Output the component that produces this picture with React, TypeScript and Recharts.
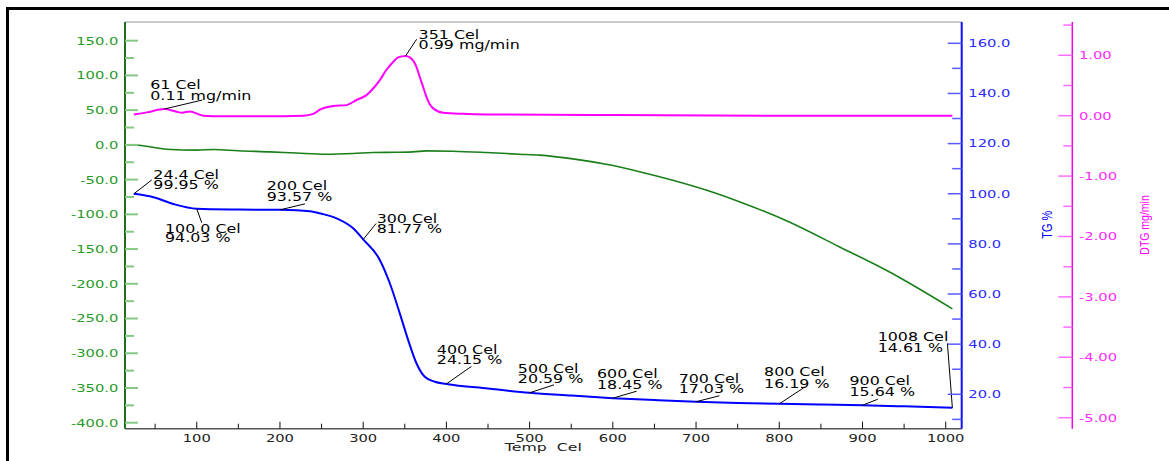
import React from "react";
import {
  ComposedChart,
  Line,
  XAxis,
  YAxis,
  ReferenceDot,
  ReferenceLine,
} from "recharts";

// TG curve, % (blue, right axis)
const tgTemps = [
  24.4, 48, 72, 100, 150, 200, 236, 250, 268, 288, 300, 320, 332, 344, 354,
  364, 374, 386, 400, 450, 500, 550, 600, 650, 700, 750, 800, 850, 900, 950,
  1008,
];
const tgValues = [
  99.95, 98.6, 95.9, 94.03, 93.7, 93.57, 93.0, 92.0, 90.2, 86.2, 81.77, 73.6,
  64.3, 52.3, 41.7, 32.4, 27.0, 25.0, 24.15, 22.3, 20.59, 19.5, 18.45, 17.7,
  17.03, 16.55, 16.19, 15.9, 15.64, 15.2, 14.61,
];

// DTA curve (green, left axis)
const dtaTemps = [
  16, 30, 64, 100, 120, 150, 188, 220, 256, 288, 312, 340, 360, 376, 408, 448,
  488, 512, 552, 592, 632, 672, 712, 752, 812, 872, 932, 1008,
];
const dtaValues = [
  0, -0.5, -6.2, -7.6, -6.6, -8.5, -10.1, -11.8, -13.4, -12.4, -11, -10.6,
  -10.1, -8.6, -9.1, -11, -13.4, -14.8, -20.2, -28, -38.6, -50.9, -65,
  -81.8, -111, -146.6, -182.6, -236,
];

// DTG curve, mg/min (magenta, far right axis)
const dtgTemps = [
  24.4, 40, 61, 76, 82, 92, 97, 108, 130, 180, 228, 240, 248, 264, 280, 292,
  304, 312, 320, 328, 336, 342, 351, 356, 364, 368, 372, 376, 380, 386, 396,
  420, 450, 600, 800, 1008,
];
const dtgValues = [
  0.02, 0.055, 0.11, 0.065, 0.05, 0.07, 0.05, 0.0, -0.01, -0.01, 0.0, 0.03,
  0.1, 0.16, 0.175, 0.26, 0.34, 0.45, 0.59, 0.76, 0.89, 0.965, 0.99, 0.965,
  0.81, 0.64, 0.48, 0.31, 0.19, 0.1, 0.05, 0.03, 0.02, 0.01, 0.0, 0.0,
];

// axis ticks
const xTicks = [
  50, 100, 150, 200, 250, 300, 350, 400, 450, 500, 550, 600, 650, 700, 750,
  800, 850, 900, 950, 1000,
];
const dtaTicks = [
  -400, -375, -350, -325, -300, -275, -250, -225, -200, -175, -150, -125, -100,
  -75, -50, -25, 0, 25, 50, 75, 100, 125, 150,
];
const tgTicks = [
  10, 20, 30, 40, 50, 60, 70, 80, 90, 100, 110, 120, 130, 140, 150, 160,
];
const dtgTicks = [
  -5, -4.5, -4, -3.5, -3, -2.5, -2, -1.5, -1, -0.5, 0, 0.5, 1, 1.5,
];

// peak / step annotations
const noteTemps = [61, 351, 24.4, 100, 200, 300, 400, 500, 600, 700, 800, 900, 1008];
const noteValues = [
  0.11, 0.99, 99.95, 94.03, 93.57, 81.77, 24.15, 20.59, 18.45, 17.03, 16.19,
  15.64, 14.61,
];
const TG = "a_tg";
const DTG = "b_dtg";
const noteAxes = [DTG, DTG, TG, TG, TG, TG, TG, TG, TG, TG, TG, TG, TG];
const noteTempText = [
  "61", "351", "24.4", "100.0", "200", "300", "400", "500", "600", "700",
  "800", "900", "1008",
];
const noteValueText = [
  "0.11 mg/min", "0.99 mg/min", "99.95 %", "94.03 %", "93.57 %", "81.77 %",
  "24.15 %", "20.59 %", "18.45 %", "17.03 %", "16.19 %", "15.64 %", "14.61 %",
];

// where each label sits relative to its point (px)
const noteLayout = [
  { tx: -14, b1: -19.7, b2: -8.7, lx: 38, ly: -9 },
  { tx: 13, b1: -16.6, b2: -6.6, lx: 11, ly: -16.6 },
  { tx: 19.5, b1: -15, b2: -5, lx: 18, ly: -14 },
  { tx: -31.7, b1: 24.3, b2: 33.6, lx: 5, ly: 14 },
  { tx: -13.2, b1: -20, b2: -9.2, lx: 25, ly: -6 },
  { tx: 13.5, b1: -16, b2: -6, lx: 13, ly: -16 },
  { tx: -9.6, b1: -30, b2: -20, lx: 25, ly: -17.5 },
  { tx: -11.8, b1: -20, b2: -9.5, lx: 24.4, ly: -8 },
  { tx: -15.8, b1: -20, b2: -9.5, lx: 23.8, ly: -7 },
  { tx: -17.4, b1: -19, b2: -8.3, lx: 23.3, ly: -6 },
  { tx: -15.2, b1: -27.5, b2: -16, lx: 24.4, ly: -16 },
  { tx: -13, b1: -20, b2: -9.3, lx: 15.3, ly: -6 },
  { tx: -74.7, b1: -67, b2: -55.5, lx: -5, ly: -64.5 },
];

const FONT = "'DejaVu Sans', Verdana, sans-serif";
const NARROW = "'Liberation Sans', Arial, sans-serif";

const GREEN = "#1a7f1a";
const BLUE = "#0000ff";
const MAGENTA = "#ff00ff";

const toPoints = (ts: number[], vs: number[]) => ts.map((t, i) => ({ t, v: vs[i] }));
const tgData = toPoints(tgTemps, tgValues);
const dtaData = toPoints(dtaTemps, dtaValues);
const dtgData = toPoints(dtgTemps, dtgValues);

const SText = ({ x, y, sx, anchor = "start", fill = "#000", size, family = FONT, rotate, children }: any) => (
  <text
    transform={`translate(${x},${y}) scale(${sx},1)${rotate ? ` rotate(${rotate})` : ""}`}
    textAnchor={anchor}
    fill={fill}
    fontSize={size}
    fontFamily={family}
    style={{ whiteSpace: "pre" }}
  >
    {children}
  </text>
);

const DtaTick = ({ x, y, payload }: any) => {
  const major = payload.value % 50 === 0;
  return (
    <g>
      <line x1={x} x2={x + (major ? 13 : 9)} y1={y} y2={y} stroke="#86c986" strokeWidth={2} />
      {major && (
        <SText x={x - 6.7} y={y + 3.9} sx={1.4} anchor="end" fill="#2a9a2a" size={10.5}>
          {payload.value.toFixed(1)}
        </SText>
      )}
    </g>
  );
};

const TgTick = ({ x, y, payload }: any) => {
  const major = payload.value % 20 === 0;
  return (
    <g>
      <line x1={x - (major ? 14 : 9.5)} x2={x} y1={y} y2={y} stroke="#5a5aff" strokeWidth={1.5} />
      {major && (
        <SText x={x + 6.6} y={y + 3.9} sx={1.4} fill="#2b2bff" size={10.5}>
          {payload.value.toFixed(1)}
        </SText>
      )}
    </g>
  );
};

const DtgTick = ({ x, y, payload }: any) => {
  const major = Number.isInteger(payload.value);
  return (
    <g>
      <line x1={x - (major ? 14 : 9)} x2={x} y1={y} y2={y} stroke="#ff6cff" strokeWidth={1.5} />
      {major && (
        <SText x={x + 6.7} y={y + 3.9} sx={1.4} fill="#ff2bff" size={10.5}>
          {payload.value.toFixed(2)}
        </SText>
      )}
    </g>
  );
};

const TempTick = ({ x, y, payload }: any) => {
  const major = payload.value % 100 === 0;
  return (
    <g>
      <line x1={x} x2={x} y1={y} y2={y - (major ? 7 : 5)} stroke="#111" strokeWidth={1} />
      {major && (
        <SText x={x} y={y + 13.6} sx={1.4} anchor="middle" fill="#222" size={10.5}>
          {String(payload.value)}
        </SText>
      )}
    </g>
  );
};

const noteShape = (i: number) => (p: any) => {
  const { cx, cy } = p;
  const l = noteLayout[i];
  return (
    <g>
      <line x1={cx} y1={cy} x2={cx + l.lx} y2={cy + l.ly} stroke="#000" strokeWidth={1} />
      <SText x={cx + l.tx} y={cy + l.b1} sx={1.27} size={12.5}>
        {`${noteTempText[i]} Cel`}
      </SText>
      <SText x={cx + l.tx} y={cy + l.b2} sx={1.27} size={12.5}>
        {noteValueText[i]}
      </SText>
    </g>
  );
};

export default function App() {
  return (
    <div style={{ position: "absolute", left: 0, top: 0, width: 1169, height: 461, background: "#fff" }}>
      <div
        style={{
          position: "absolute",
          left: 6,
          top: 7,
          width: 1169,
          height: 461,
          borderTop: "3px solid #000",
          borderLeft: "3px solid #000",
        }}
      />
      <div style={{ position: "absolute", left: 0, top: 0 }}>
        <ComposedChart width={1169} height={461} margin={{ top: 22, right: 0, bottom: 0, left: 0 }}>
          <XAxis
            dataKey="t"
            type="number"
            domain={[13.8, 1019.2]}
            allowDataOverflow
            ticks={xTicks}
            interval={0}
            height={32.3}
            tickSize={0}
            tickMargin={0}
            tickLine={false}
            axisLine={{ stroke: "#555", strokeWidth: 1.5 }}
            tick={TempTick}
            label={{
              content: ({ viewBox }: any) => (
                <SText x={viewBox.x + viewBox.width / 2} y={viewBox.y + 21.8} sx={1.5} anchor="middle" fill="#222" size={10.5}>
                  {"Temp  Cel"}
                </SText>
              ),
            }}
          />
          <YAxis
            yAxisId="dta"
            orientation="left"
            width={125}
            type="number"
            domain={[-408.6, 176.9]}
            allowDataOverflow
            ticks={dtaTicks}
            interval={0}
            tickSize={0}
            tickMargin={0}
            tickLine={false}
            axisLine={{ stroke: "#1e6e1e", strokeWidth: 2 }}
            tick={DtaTick}
          />
          <YAxis
            yAxisId={TG}
            orientation="right"
            width={110.6}
            type="number"
            domain={[6.28, 168.5]}
            allowDataOverflow
            ticks={tgTicks}
            interval={0}
            tickSize={0}
            tickMargin={0}
            tickLine={false}
            axisLine={{ stroke: "#1010ff", strokeWidth: 2 }}
            tick={TgTick}
            label={{
              content: ({ viewBox }: any) => (
                <SText x={viewBox.x + 89.8} y={224.7} sx={1.3} rotate={-90} anchor="middle" fill={BLUE} size={11} family={NARROW}>
                  {"TG %"}
                </SText>
              ),
            }}
          />
          <YAxis
            yAxisId={DTG}
            orientation="right"
            width={96.7}
            type="number"
            domain={[-5.182, 1.551]}
            allowDataOverflow
            ticks={dtgTicks}
            interval={0}
            tickSize={0}
            tickMargin={0}
            tickLine={false}
            axisLine={{ stroke: "#f000f0", strokeWidth: 1.5 }}
            tick={DtgTick}
            label={{
              content: ({ viewBox }: any) => (
                <SText x={viewBox.x + 76.7} y={225} sx={1.3} rotate={-90} anchor="middle" fill={MAGENTA} size={10.5} family={NARROW}>
                  {"DTG mg/min"}
                </SText>
              ),
            }}
          />
          <ReferenceLine yAxisId="dta" y={176.9} stroke="#999" strokeWidth={1} />
          <Line
            yAxisId="dta"
            data={dtaData}
            dataKey="v"
            type="monotone"
            stroke={GREEN}
            strokeWidth={1.6}
            dot={false}
            isAnimationActive={false}
          />
          <Line
            yAxisId={DTG}
            data={dtgData}
            dataKey="v"
            type="monotone"
            stroke={MAGENTA}
            strokeWidth={2}
            dot={false}
            isAnimationActive={false}
          />
          <Line
            yAxisId={TG}
            data={tgData}
            dataKey="v"
            type="monotone"
            stroke={BLUE}
            strokeWidth={2}
            dot={false}
            isAnimationActive={false}
          />
          {noteTemps.map((t, i) => (
            <ReferenceDot
              key={i}
              yAxisId={noteAxes[i]}
              x={t}
              y={noteValues[i]}
              r={0}
              shape={noteShape(i)}
            />
          ))}
        </ComposedChart>
      </div>
    </div>
  );
}
